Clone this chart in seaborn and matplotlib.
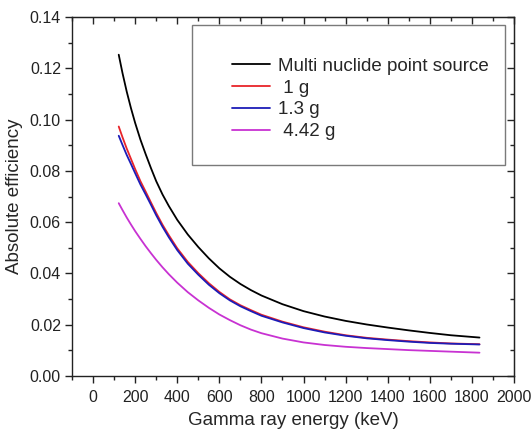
import numpy as np
import pandas as pd
import matplotlib
matplotlib.use("Agg")
import matplotlib.pyplot as plt
from matplotlib.patches import Rectangle
from matplotlib.ticker import MultipleLocator, FormatStrFormatter
import seaborn as sns

# === Data (keV, absolute efficiency) ===
energy = [122, 140, 160, 180, 200, 225, 250, 275, 300, 330, 360, 400, 450,
          500, 550, 600, 650, 700, 750, 800, 900, 1000, 1100, 1200, 1300,
          1400, 1500, 1600, 1700, 1836]

eff_point = [0.1253, 0.1181, 0.1109, 0.1045, 0.0987, 0.0922, 0.0865, 0.0811,
             0.0760, 0.0708, 0.0663, 0.0609, 0.0552, 0.0503, 0.0459, 0.0420,
             0.0387, 0.0359, 0.0335, 0.0314, 0.0280, 0.0253, 0.0232, 0.0215,
             0.0201, 0.0189, 0.0178, 0.0168, 0.0159, 0.0150]
eff_1g = [0.0973, 0.0931, 0.0887, 0.0847, 0.0807, 0.0760, 0.0719, 0.0677,
          0.0636, 0.0590, 0.0549, 0.0498, 0.0445, 0.0401, 0.0362, 0.0328,
          0.0299, 0.0276, 0.0257, 0.0239, 0.0212, 0.0190, 0.0173, 0.0159,
          0.0149, 0.0142, 0.0136, 0.0131, 0.0127, 0.0124]
eff_13g = [0.0937, 0.0901, 0.0862, 0.0827, 0.0791, 0.0747, 0.0708, 0.0668,
           0.0627, 0.0582, 0.0541, 0.0491, 0.0438, 0.0395, 0.0356, 0.0323,
           0.0295, 0.0272, 0.0253, 0.0235, 0.0209, 0.0187, 0.0170, 0.0157,
           0.0147, 0.0140, 0.0134, 0.0129, 0.0126, 0.0123]
eff_442g = [0.0674, 0.0647, 0.0618, 0.0591, 0.0565, 0.0535, 0.0506, 0.0479,
            0.0453, 0.0424, 0.0397, 0.0364, 0.0327, 0.0295, 0.0266, 0.0240,
            0.0218, 0.0198, 0.0181, 0.0167, 0.0146, 0.0131, 0.0121, 0.0114,
            0.0109, 0.0105, 0.0101, 0.0098, 0.0095, 0.0091]

series_names = ["Multi nuclide point source", " 1 g", "1.3 g", " 4.42 g"]
series_values = [eff_point, eff_1g, eff_13g, eff_442g]
colors = ["#000000", "#e8242a", "#1c1cb8", "#c832d2"]

# === Long table for seaborn ===
df = pd.concat(
    [pd.DataFrame({"energy": energy, "eff": vals, "sample": name})
     for name, vals in zip(series_names, series_values)],
    ignore_index=True,
)

sns.set_style("ticks")
plt.rcParams["font.family"] = ["Liberation Sans", "DejaVu Sans"]

fig = plt.figure(figsize=(5.31, 4.34), dpi=100)
ax = fig.add_axes([0.1356, 0.1336, 0.8324, 0.8272])

sns.lineplot(data=df, x="energy", y="eff", hue="sample",
             hue_order=series_names, palette=dict(zip(series_names, colors)),
             linewidth=1.3, ax=ax, sort=True, estimator=None)

ax.set_xlim(-100, 2000)
ax.set_ylim(0, 0.14)
ax.xaxis.set_major_locator(MultipleLocator(200))
ax.xaxis.set_minor_locator(MultipleLocator(100))
ax.yaxis.set_major_locator(MultipleLocator(0.02))
ax.yaxis.set_minor_locator(MultipleLocator(0.01))
ax.yaxis.set_major_formatter(FormatStrFormatter("%.2f"))

ax.tick_params(which="both", direction="out", width=1.0, labelsize=11.5,
               colors="#222222")
ax.tick_params(which="major", length=5)
ax.tick_params(which="minor", length=3)
ax.tick_params(axis="x", pad=5)
ax.tick_params(axis="y", pad=3)
for spine in ax.spines.values():
    spine.set_linewidth(1.0)
    spine.set_color("#222222")

# mirrored inward ticks on top/right
ax_top = ax.secondary_xaxis("top")
ax_top.xaxis.set_major_locator(MultipleLocator(200))
ax_top.xaxis.set_minor_locator(MultipleLocator(100))
ax_top.tick_params(which="both", direction="in", labeltop=False, width=1.0)
ax_top.tick_params(which="major", length=5)
ax_top.tick_params(which="minor", length=3)
ax_right = ax.secondary_yaxis("right")
ax_right.yaxis.set_major_locator(MultipleLocator(0.02))
ax_right.yaxis.set_minor_locator(MultipleLocator(0.01))
ax_right.tick_params(which="both", direction="in", labelright=False, width=1.0)
ax_right.tick_params(which="major", length=5)
ax_right.tick_params(which="minor", length=3)

ax.set_xlabel("Gamma ray energy (keV)", fontsize=13.5, labelpad=5)
ax.set_ylabel("Absolute efficiency", fontsize=13.5, labelpad=5)

# === Legend with separate gray frame ===
ax.add_patch(Rectangle((0.271, 0.588), 0.709, 0.39, transform=ax.transAxes,
                       fill=False, edgecolor="#7a7a7a", linewidth=1.0,
                       zorder=5))
handles, labels = ax.get_legend_handles_labels()
ax.legend(handles, labels, loc="upper left", bbox_to_anchor=(0.362, 0.887),
          frameon=False, fontsize=13.5, handlelength=2.0, handletextpad=0.45,
          labelspacing=0.25, borderpad=0, borderaxespad=0)

plt.savefig("out.png", dpi=100)
plt.close()
